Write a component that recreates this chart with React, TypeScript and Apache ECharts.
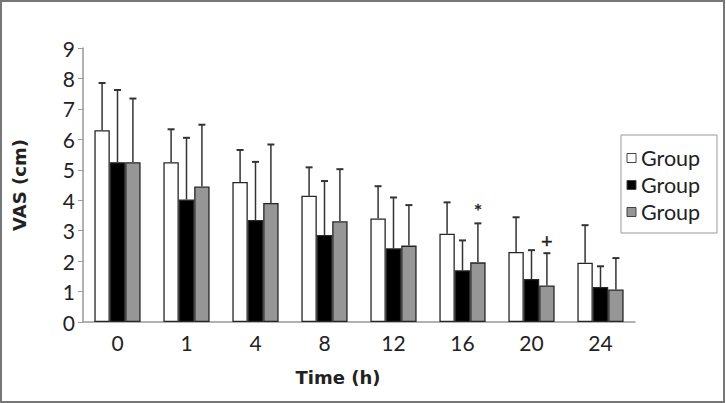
import React, { useEffect, useRef } from "react";
import * as echarts from "echarts";

const categories = ["0", "1", "4", "8", "12", "16", "20", "24"];
const seriesNames = ["Group", "Group", "Group"];
const whiteMeans = [6.3, 5.25, 4.6, 4.15, 3.4, 2.9, 2.3, 1.95];
const whiteErrTop = [7.85, 6.33, 5.65, 5.08, 4.46, 3.93, 3.44, 3.18];
const blackMeans = [5.25, 4.02, 3.35, 2.86, 2.42, 1.7, 1.41, 1.15];
const blackErrTop = [7.62, 6.05, 5.26, 4.63, 4.09, 2.68, 2.36, 1.83];
const grayMeans = [5.25, 4.45, 3.91, 3.31, 2.51, 1.96, 1.2, 1.07];
const grayErrTop = [7.34, 6.48, 5.83, 5.02, 3.84, 3.24, 2.26, 2.1];
const grayMarkers = ["", "", "", "", "", "*", "+", ""];
const yTicks = [0, 1, 2, 3, 4, 5, 6, 7, 8, 9];

const fills = ["#ffffff", "#000000", "#969696"];
const CAT_GAP = 0.33;

export default function App() {
  const ref = useRef<HTMLDivElement>(null);
  useEffect(() => {
    if (!ref.current) return;
    const chart = echarts.init(ref.current, undefined, { renderer: "svg" });
    const means = [whiteMeans, blackMeans, grayMeans];
    const errs = [whiteErrTop, blackErrTop, grayErrTop];

    const barSeries = means.map((m, i) => ({
      type: "bar",
      name: seriesNames[i],
      data: m,
      barGap: "0%",
      barCategoryGap: "33%",
      itemStyle: { color: fills[i], borderColor: "#262626", borderWidth: 1.3 },
      z: 2,
    }));

    const errSeries = errs.map((e, si) => ({
      type: "custom",
      name: "err" + si,
      z: 3,
      data: e.map((top, ci) => [ci, means[si][ci], top]),
      renderItem: (params: any, api: any) => {
        const idx = api.value(0);
        const base = api.coord([idx, api.value(1)]);
        const top = api.coord([idx, api.value(2)]);
        const band = api.size([1, 0])[0];
        const barW = (band * (1 - CAT_GAP)) / 3;
        const x = base[0] + (si - 1) * barW;
        return {
          type: "group",
          children: [
            {
              type: "line",
              shape: { x1: x, y1: base[1], x2: x, y2: top[1] },
              style: { stroke: "#333", lineWidth: 1.5 },
            },
            {
              type: "line",
              shape: { x1: x - 3.5, y1: top[1], x2: x + 3.5, y2: top[1] },
              style: { stroke: "#333", lineWidth: 2 },
            },
          ],
        };
      },
    }));

    const baseGraphic: any[] = [
      {
        type: "rect",
        shape: { x: 1, y: 1, width: 723, height: 401 },
        style: { fill: "none", stroke: "#777", lineWidth: 2 },
        silent: true,
      },
      {
        type: "rect",
        shape: { x: 621, y: 135, width: 96, height: 98 },
        style: { fill: "#fff", stroke: "#999", lineWidth: 1 },
      },
      ...seriesNames.map((n, i) => ({
        type: "group",
        x: 627,
        y: 158 + i * 27,
        children: [
          {
            type: "rect",
            shape: { x: 0, y: -4.5, width: 9, height: 9 },
            style: { fill: fills[i], stroke: "#444", lineWidth: 1 },
          },
          {
            type: "text",
            x: 14,
            y: 0,
            style: {
              text: n,
              fontFamily: "Lato",
              fontSize: 21.5,
              fill: "#222",
              verticalAlign: "middle",
            },
          },
        ],
      })),
    ];

    chart.setOption({
      animation: false,
      grid: { left: 83, right: 91, top: 48, bottom: 81 },
      graphic: baseGraphic,
      xAxis: {
        type: "category",
        data: categories,
        name: "Time (h)",
        nameLocation: "middle",
        nameGap: 46,
        nameTextStyle: {
          fontFamily: "DejaVu Sans",
          fontWeight: "bold",
          fontSize: 18,
          color: "#222",
          verticalAlign: "top",
          padding: [0, 42, 0, 0],
        },
        axisLine: { lineStyle: { color: "#999", width: 1.5 } },
        axisTick: { lineStyle: { color: "#999" }, length: 5 },
        axisLabel: { fontFamily: "Lato", fontSize: 21, color: "#222", margin: 10 },
      },
      yAxis: {
        type: "value",
        min: 0,
        max: 9,
        interval: 1,
        name: "VAS (cm)",
        nameLocation: "middle",
        nameGap: 55,
        nameTextStyle: {
          fontFamily: "DejaVu Sans",
          fontWeight: "bold",
          fontSize: 18,
          color: "#222",
        },
        axisLine: { show: true, lineStyle: { color: "#999", width: 1.5 } },
        axisTick: { show: true, lineStyle: { color: "#999" }, length: 5 },
        splitLine: { show: false },
        axisLabel: {
          fontFamily: "Lato",
          fontSize: 21,
          color: "#222",
          margin: 8,
          formatter: (v: number) => (yTicks.includes(v) ? String(v) : ""),
        },
      },
      series: [...barSeries, ...errSeries],
    });

    // significance markers above the gray error bars, placed via the chart's scales
    const p0 = chart.convertToPixel({ gridIndex: 0 }, [0, 0]) as number[];
    const p1 = chart.convertToPixel({ gridIndex: 0 }, [1, 0]) as number[];
    const band = p1[0] - p0[0];
    const barW = (band * (1 - CAT_GAP)) / 3;
    const markerGraphic: any[] = [];
    grayMarkers.forEach((mk, ci) => {
      if (!mk) return;
      const p = chart.convertToPixel({ gridIndex: 0 }, [ci, grayErrTop[ci]]) as number[];
      markerGraphic.push({
        type: "text",
        x: p[0] + barW,
        y: p[1] - 13,
        style: {
          text: mk,
          fontFamily: "Lato",
          fontSize: 20,
          fill: "#222",
          stroke: "#222",
          lineWidth: 0.4,
          align: "center",
          verticalAlign: "middle",
        },
      });
    });
    chart.setOption({ graphic: [...baseGraphic, ...markerGraphic] });

    return () => chart.dispose();
  }, []);
  return (
    <div
      ref={ref}
      style={{ position: "fixed", left: 0, top: 0, width: 726, height: 403, background: "#fff" }}
    />
  );
}
